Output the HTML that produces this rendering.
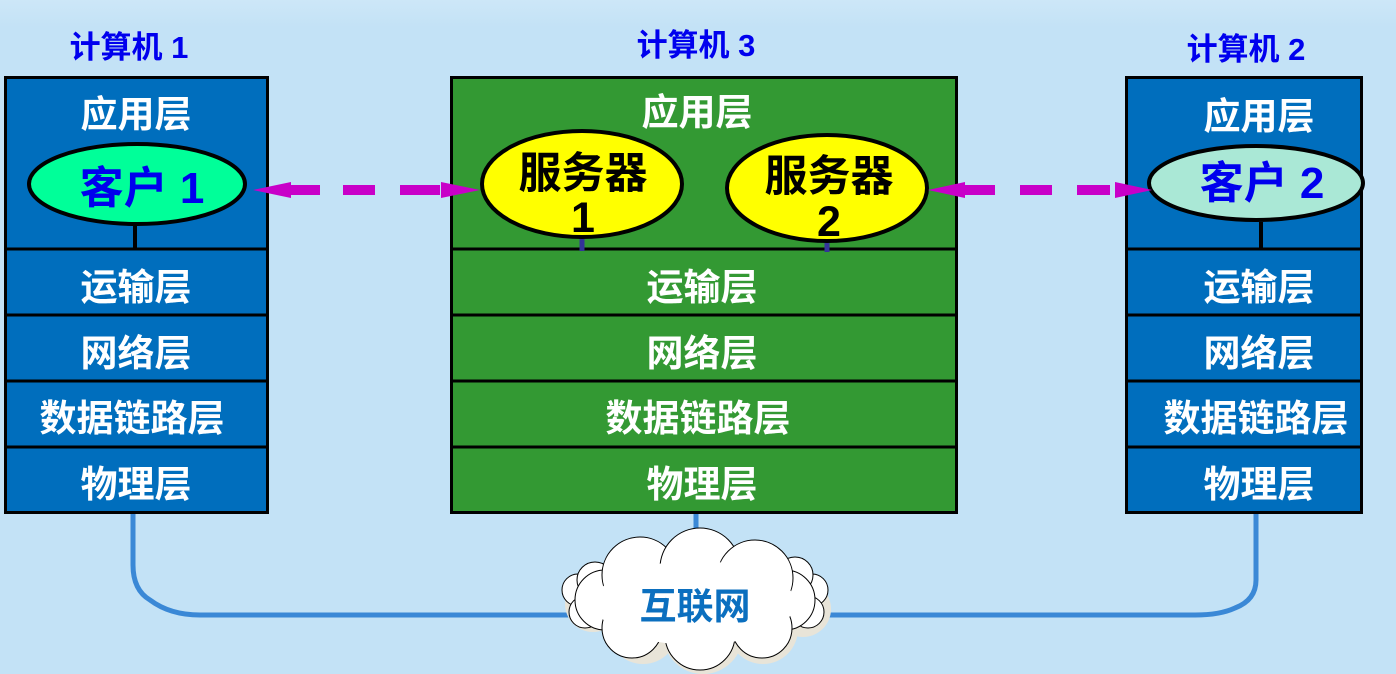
<!DOCTYPE html>
<html><head><meta charset="utf-8"><style>
html,body{margin:0;padding:0;background:#c3e2f6;}
svg{display:block}
text{font-family:"Liberation Sans","Noto Sans CJK SC",sans-serif;font-weight:bold;}
</style></head><body>
<svg width="1396" height="674" viewBox="0 0 1396 674" xmlns="http://www.w3.org/2000/svg">
<defs><linearGradient id="bg" x1="0" y1="0" x2="0" y2="1"><stop offset="0" stop-color="#cde7f8"/><stop offset="0.04" stop-color="#c3e2f6"/><stop offset="1" stop-color="#c3e2f6"/></linearGradient></defs>
<rect width="1396" height="674" fill="url(#bg)"/>
<g fill="none" stroke="#3a88d6" stroke-width="5">
<path d="M133 513 V565 Q133 590 150 600 Q170 615 200 615 H600"/>
<path d="M1256 513 V580 Q1256 600 1235 608 Q1220 615 1195 615 H800"/>
<path d="M696 513 V560"/>
</g>
<!-- cloud -->
<g fill="#e8e4d8" stroke="none" transform="translate(3,4)">
<circle cx="590" cy="600" r="28"/><circle cx="640" cy="580" r="40"/><circle cx="700" cy="575" r="40"/><circle cx="755" cy="585" r="40"/><circle cx="800" cy="605" r="28"/><circle cx="700" cy="630" r="40"/><circle cx="640" cy="625" r="35"/><circle cx="760" cy="625" r="35"/>
</g>
<g stroke="#000" stroke-width="1" fill="#fff">
<circle cx="578" cy="590" r="16"/><circle cx="585" cy="612" r="16"/><circle cx="595" cy="580" r="18"/>
<circle cx="812" cy="590" r="16"/><circle cx="808" cy="612" r="16"/><circle cx="795" cy="575" r="18"/>
<circle cx="605" cy="600" r="30"/><circle cx="785" cy="600" r="30"/>
<circle cx="640" cy="575" r="38"/><circle cx="700" cy="568" r="40"/><circle cx="755" cy="578" r="38"/>
<circle cx="632" cy="628" r="30"/><circle cx="700" cy="635" r="35"/><circle cx="762" cy="628" r="30"/>
<ellipse cx="695" cy="603" rx="100" ry="42" stroke="none"/>
</g>
<text x="695" y="619" font-size="37" fill="#0b6fbf" text-anchor="middle">互联网</text>
<!-- titles -->
<g font-size="31" fill="#0000ee" text-anchor="middle">
<text x="129" y="58">计算机 1</text>
<text x="696" y="56">计算机 3</text>
<text x="1246" y="60">计算机 2</text>
</g>
<g stroke="#000" stroke-width="3">
<rect x="5.5" y="77.5" width="262" height="435" fill="#006ebd"/>
<line x1="5" y1="249" x2="268" y2="249"/><line x1="5" y1="315" x2="268" y2="315"/><line x1="5" y1="381" x2="268" y2="381"/><line x1="5" y1="447" x2="268" y2="447"/>
<rect x="451.5" y="77.5" width="505" height="435" fill="#339933"/>
<line x1="451" y1="249" x2="957" y2="249"/><line x1="451" y1="315" x2="957" y2="315"/><line x1="451" y1="381" x2="957" y2="381"/><line x1="451" y1="447" x2="957" y2="447"/>
<rect x="1126.5" y="77.5" width="235" height="435" fill="#006ebd"/>
<line x1="1126" y1="249" x2="1362" y2="249"/><line x1="1126" y1="315" x2="1362" y2="315"/><line x1="1126" y1="381" x2="1362" y2="381"/><line x1="1126" y1="447" x2="1362" y2="447"/>
</g>
<line x1="135" y1="222" x2="135" y2="249" stroke="#000" stroke-width="4"/>
<line x1="1261" y1="222" x2="1261" y2="249" stroke="#000" stroke-width="4"/>
<line x1="582" y1="236" x2="582" y2="251" stroke="#333399" stroke-width="5"/>
<line x1="827" y1="240" x2="827" y2="252" stroke="#333399" stroke-width="5"/>
<g font-size="37" fill="#fff" text-anchor="middle">
<text x="136" y="127">应用层</text><text x="136" y="300">运输层</text><text x="136" y="366">网络层</text><text x="132" y="431">数据链路层</text><text x="136" y="497">物理层</text>
<text x="697" y="125">应用层</text><text x="702" y="300">运输层</text><text x="702" y="366">网络层</text><text x="698" y="431">数据链路层</text><text x="702" y="497">物理层</text>
<text x="1259" y="129">应用层</text><text x="1259" y="300">运输层</text><text x="1259" y="366">网络层</text><text x="1256" y="431">数据链路层</text><text x="1259" y="497">物理层</text>
</g>
<g stroke="#000" stroke-width="4">
<ellipse cx="137" cy="184" rx="108" ry="40" fill="#00ff99"/>
<ellipse cx="582" cy="184" rx="100" ry="53" fill="#ffff00"/>
<ellipse cx="827" cy="188" rx="100" ry="53" fill="#ffff00"/>
<ellipse cx="1256" cy="183" rx="107" ry="37" fill="#aae8d6"/>
</g>
<text x="142" y="203" font-size="44" fill="#0000ee" text-anchor="middle">客户 1</text>
<text x="1262" y="198" font-size="44" fill="#0000ee" text-anchor="middle">客户 2</text>
<g font-size="43" fill="#000" text-anchor="middle">
<text x="583" y="188">服务器</text><text x="583" y="232">1</text>
<text x="829" y="191">服务器</text><text x="829" y="236">2</text>
</g>
<g stroke="#c800c8" stroke-width="10">
<line x1="290" y1="190" x2="320" y2="190"/><line x1="343" y1="190" x2="375" y2="190"/><line x1="400" y1="190" x2="440" y2="190"/>
<line x1="963" y1="190" x2="995" y2="190"/><line x1="1020" y1="190" x2="1052" y2="190"/><line x1="1077" y1="190" x2="1110" y2="190"/>
</g>
<g fill="#c800c8">
<polygon points="253,190 291,182 291,198"/>
<polygon points="480,190 441,182 441,198"/>
<polygon points="928,190 965,182 965,198"/>
<polygon points="1152,190 1115,182 1115,198"/>
</g>
</svg>
</body></html>
